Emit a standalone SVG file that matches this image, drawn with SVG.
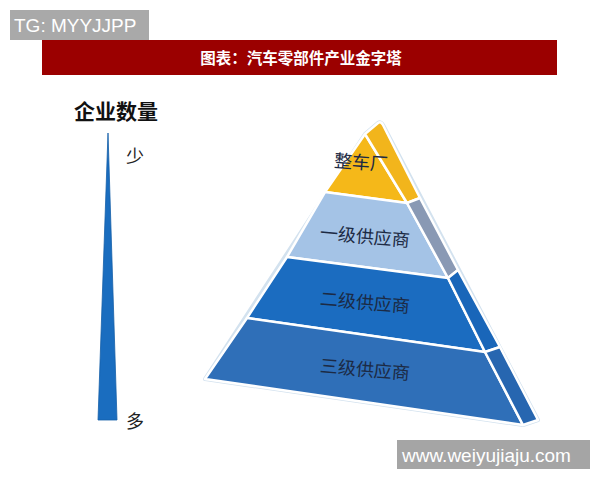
<svg xmlns="http://www.w3.org/2000/svg" width="600" height="480" viewBox="0 0 600 480">
<style>
.cjk{font-family:"Noto Sans CJK SC","Noto Sans",sans-serif;}
.lat{font-family:"Liberation Sans",Arial,sans-serif;}
.face{stroke:#ffffff;stroke-width:2.5;stroke-linejoin:round;}
.lbl{font-family:"Noto Sans CJK SC",sans-serif;font-size:18px;fill:#1c2a44;text-anchor:middle;}
</style>
<rect width="600" height="480" fill="#ffffff"/>
<g id="tg-badge">
<rect x="10" y="10" width="139" height="30" fill="#a9a9a9"/>
<text x="14" y="32" class="lat" font-size="19" fill="#ffffff">TG: MYYJJPP</text>
</g>
<g id="title-bar">
<rect x="42" y="40" width="515" height="35" fill="#9b0000"/>
<text x="301" y="64" class="cjk" font-size="15.5" font-weight="bold" fill="#ffffff" text-anchor="middle">图表：汽车零部件产业金字塔</text>
</g>
<g id="axis">
<text x="116" y="119" class="cjk" font-size="21" font-weight="bold" fill="#111111" text-anchor="middle">企业数量</text>
<polygon points="108,133 98,420 117,420" fill="#1a6dbf" stroke="#155fa8" stroke-width="0.8"/>
<text x="126" y="163" class="cjk" font-size="18" fill="#222222">少</text>
<text x="126" y="428" class="cjk" font-size="18" fill="#222222">多</text>
</g>
<g id="pyramid-outline">
<path d="M365,134 L378,123 Q381,121 383,125 L538,420 L523,425 L205,379 Z" fill="none" stroke="#d3e2ef" stroke-width="4" stroke-linejoin="round"/>
</g>
<g id="level-oem">
<polygon class="face" points="365,134 407,203 325,192" fill="#f5b819"/>
<path class="face" d="M365,134 L378,123 Q381,121 383,125 L420,198 L407,203 Z" fill="#f2b51c"/>
<text class="lbl" x="361" y="169" font-size="17" transform="rotate(4 361 163)">整车厂</text>
</g>
<g id="level-tier1">
<polygon class="face" points="325,192 407,203 448,278 287,257" fill="#a4c3e6"/>
<polygon class="face" points="407,203 420,198 458,270 448,278" fill="#8999b4"/>
<text class="lbl" x="365" y="243" transform="rotate(5 365 236)">一级供应商</text>
</g>
<g id="level-tier2">
<polygon class="face" points="287,257 448,278 485,352 247,318" fill="#1b6cc0"/>
<polygon class="face" points="448,278 458,270 500,347 485,352" fill="#1966b9"/>
<text class="lbl" x="365" y="309" fill="#1a3560" transform="rotate(5 365 302)">二级供应商</text>
</g>
<g id="level-tier3">
<polygon class="face" points="247,318 485,352 523,425 205,379" fill="#2f6fb8"/>
<polygon class="face" points="485,352 500,347 538,420 523,425" fill="#2766b0"/>
<text class="lbl" x="365" y="376" transform="rotate(5 365 369)">三级供应商</text>
</g>
<g id="watermark">
<rect x="397" y="440" width="193" height="29" fill="#a5a5a5"/>
<text x="402" y="462" class="lat" font-size="19" fill="#ffffff">www.weiyujiaju.com</text>
</g>
</svg>
